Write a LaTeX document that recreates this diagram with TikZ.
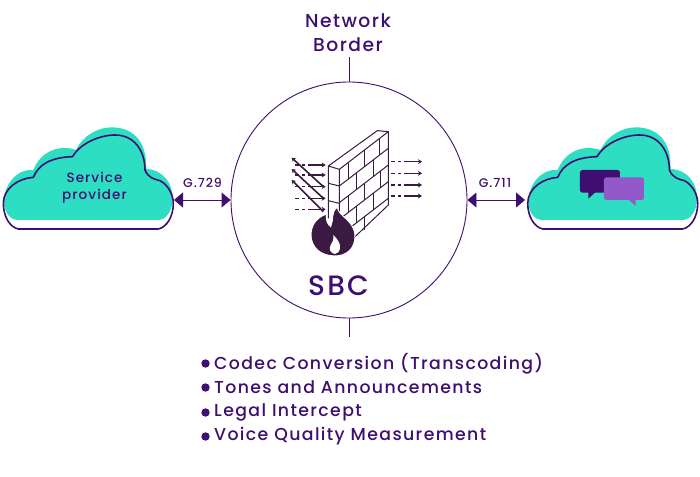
\documentclass[tikz,border=0pt]{standalone}
\usepackage{fontspec}
\setmainfont{Poppins Medium}[LetterSpace=8]
\usetikzlibrary{arrows.meta}
\tikzset{
 txt/.style={text=ink,inner sep=0pt},
 flow/.style={draw=wall,line width=1.6pt,-{Stealth[length=4pt,width=5pt]},
   dash pattern=on 4pt off 3pt on 3pt off 3pt on 40pt},
 back/.style={draw=wall,line width=1.6pt,-{Stealth[length=4pt,width=5pt]}},
 link/.style={draw=ink,line width=.9pt,{Triangle[length=9pt,width=15pt]}-{Triangle[length=9pt,width=15pt]}}
}
\begin{document}
\begin{tikzpicture}[x=1pt,y=-1pt]
 \definecolor{ink}{RGB}{62,14,112}
 \definecolor{wall}{RGB}{58,26,66}
 \definecolor{teal}{RGB}{46,222,194}
 \definecolor{lilac}{RGB}{146,90,200}
 \useasboundingbox (0,0) rectangle (700,476);
 \fill[white] (0,0) rectangle (700,476);
 \foreach \xp in {0,524.4} {
   \begin{scope}[shift={(\xp,120)},scale=.3333]
     \path[fill=teal]
     (55,300) .. controls (25,300) and (12,270) .. (12,245)
     .. controls (12,190) and (55,145) .. (100,150)
     .. controls (115,110) and (150,85) .. (190,84)
     .. controls (205,84) and (218,86) .. (228,90)
     .. controls (250,45) and (295,22) .. (335,22)
     .. controls (395,22) and (435,60) .. (438,125)
     .. controls (438,135) and (438,142) .. (440,147)
     .. controls (490,150) and (518,190) .. (518,235)
     .. controls (518,270) and (500,300) .. (475,300) -- cycle;
     \draw[ink,line width=1.6pt]
     (55,327) .. controls (30,322) and (10,290) .. (10,250)
     .. controls (10,205) and (55,175) .. (100,172)
     .. controls (115,135) and (150,112) .. (218,110)
     .. controls (240,70) and (300,45) .. (345,45)
     .. controls (405,45) and (435,95) .. (435,150)
     .. controls (445,175) and (465,178) .. (480,182)
     .. controls (505,195) and (520,225) .. (520,250)
     .. controls (520,290) and (500,322) .. (475,327) -- cycle;
   \end{scope}
 }
 \node[txt,font=\fontsize{13.5}{17}\selectfont,align=center] (provider) at (94.5,187.5) {Service\\provider};
 \begin{scope}[shift={(460,120)},scale=.3333]
   \fill[ink,rounded corners=2.5pt] (360,150) rectangle (480,218);
   \fill[ink] (385,215) -- (385,236) -- (408,215) -- cycle;
   \fill[lilac,rounded corners=2.5pt] (432,172) rectangle (552,240);
   \fill[lilac] (505,238) -- (527,258) -- (527,238) -- cycle;
 \end{scope}
 \node[circle,draw=ink,line width=.9pt,minimum size=236pt,inner sep=0pt] (sbc) at (349,200) {};
 \begin{scope}[shift={(260,130)},scale=.3333]
   \foreach \yp in {105,135,170,205,238} {
     \path[flow] (105,\yp) -- (197,\yp);
   }
   \foreach \ya/\yb in {170/83,205/117,245/150} {
     \path[back] (190,\ya) -- (95,\yb);
   }
   \foreach \yp in {95,130,165,198} {
     \path[flow] (392,\yp) -- (486,\yp);
   }
   \fill[white] (205,108) -- (352,2) -- (385,5) -- (385,225) -- (285,322) -- (205,265) -- cycle;
   \draw[wall,line width=1pt,line join=round]
   (205,108) -- (352,2) -- (385,5) -- (238,118) -- cycle
   (205,108) -- (205,265) (238,118) -- (238,250)
   (385,5) -- (385,225) -- (280,325)
   (205,160) -- (238,168) (205,212) -- (238,220);
   \foreach \vp in {50,100,150,200} {
     \draw[wall,line width=1pt] (238,118+\vp) -- (385,5+\vp);
   }
   \foreach \up/\vp/\vq in {
     .18/0/50, .52/0/50, .82/0/50, .35/50/100, .7/50/100,
     .18/100/150, .52/100/150, .85/100/150, .35/150/200, .7/150/200,
     .52/200/240
   } {
     \draw[wall,line width=1pt] (238+147*\up,118-113*\up+\vp) -- (238+147*\up,118-113*\up+\vq);
   }
   \path[fill=wall,draw=white,line width=1pt]
   (225,378) .. controls (180,378) and (153,350) .. (153,315)
   .. controls (153,285) and (170,262) .. (200,252)
   .. controls (195,270) and (205,285) .. (212,290)
   .. controls (222,270) and (212,245) .. (232,232)
   .. controls (235,260) and (285,270) .. (285,320)
   .. controls (285,355) and (260,378) .. (225,378) -- cycle;
   \fill[white] (225,372) .. controls (212,370) and (205,358) .. (212,345)
   .. controls (218,335) and (222,328) .. (220,315)
   .. controls (230,325) and (243,340) .. (240,355)
   .. controls (238,365) and (232,372) .. (225,372) -- cycle;
 \end{scope}
 \node[txt,font=\fontsize{18.7}{23.5}\selectfont,align=center] (border) at (348,32.5) {Network\\Border};
 \node[txt,font=\fontsize{28}{30}\selectfont] (sbclabel) at (338.5,286) {SBC};
 \node[txt,font=\fontsize{12.5}{15}\selectfont] (g729) at (202.5,183) {G.729};
 \node[txt,font=\fontsize{12.5}{15}\selectfont] (g711) at (495,183) {G.711};
 \coordinate (cloudl) at (174,200);
 \coordinate (cloudr) at (525,200);
 \coordinate (bordertop) at (349,57);
 \coordinate (listtop) at (349,337);
 \path[link] (cloudl) -- (sbc.west);
 \path[link] (sbc.east) -- (cloudr);
 \draw[ink,line width=.9pt] (bordertop) -- (sbc.north);
 \draw[ink,line width=.9pt] (sbc.south) -- (listtop);
 \foreach \nm/\yp/\lbl in {
   item1/363.5/Codec Conversion (Transcoding),
   item2/387.5/Tones and Announcements,
   item3/412.5/Legal Intercept,
   item4/436.5/Voice Quality Measurement
 } {
   \node[txt,anchor=west,font=\fontsize{17.3}{20}\selectfont] (\nm) at (214,\yp) {\lbl};
   \fill[ink] (205.5,\yp) circle (4.2);
 }
\end{tikzpicture}
\end{document}
